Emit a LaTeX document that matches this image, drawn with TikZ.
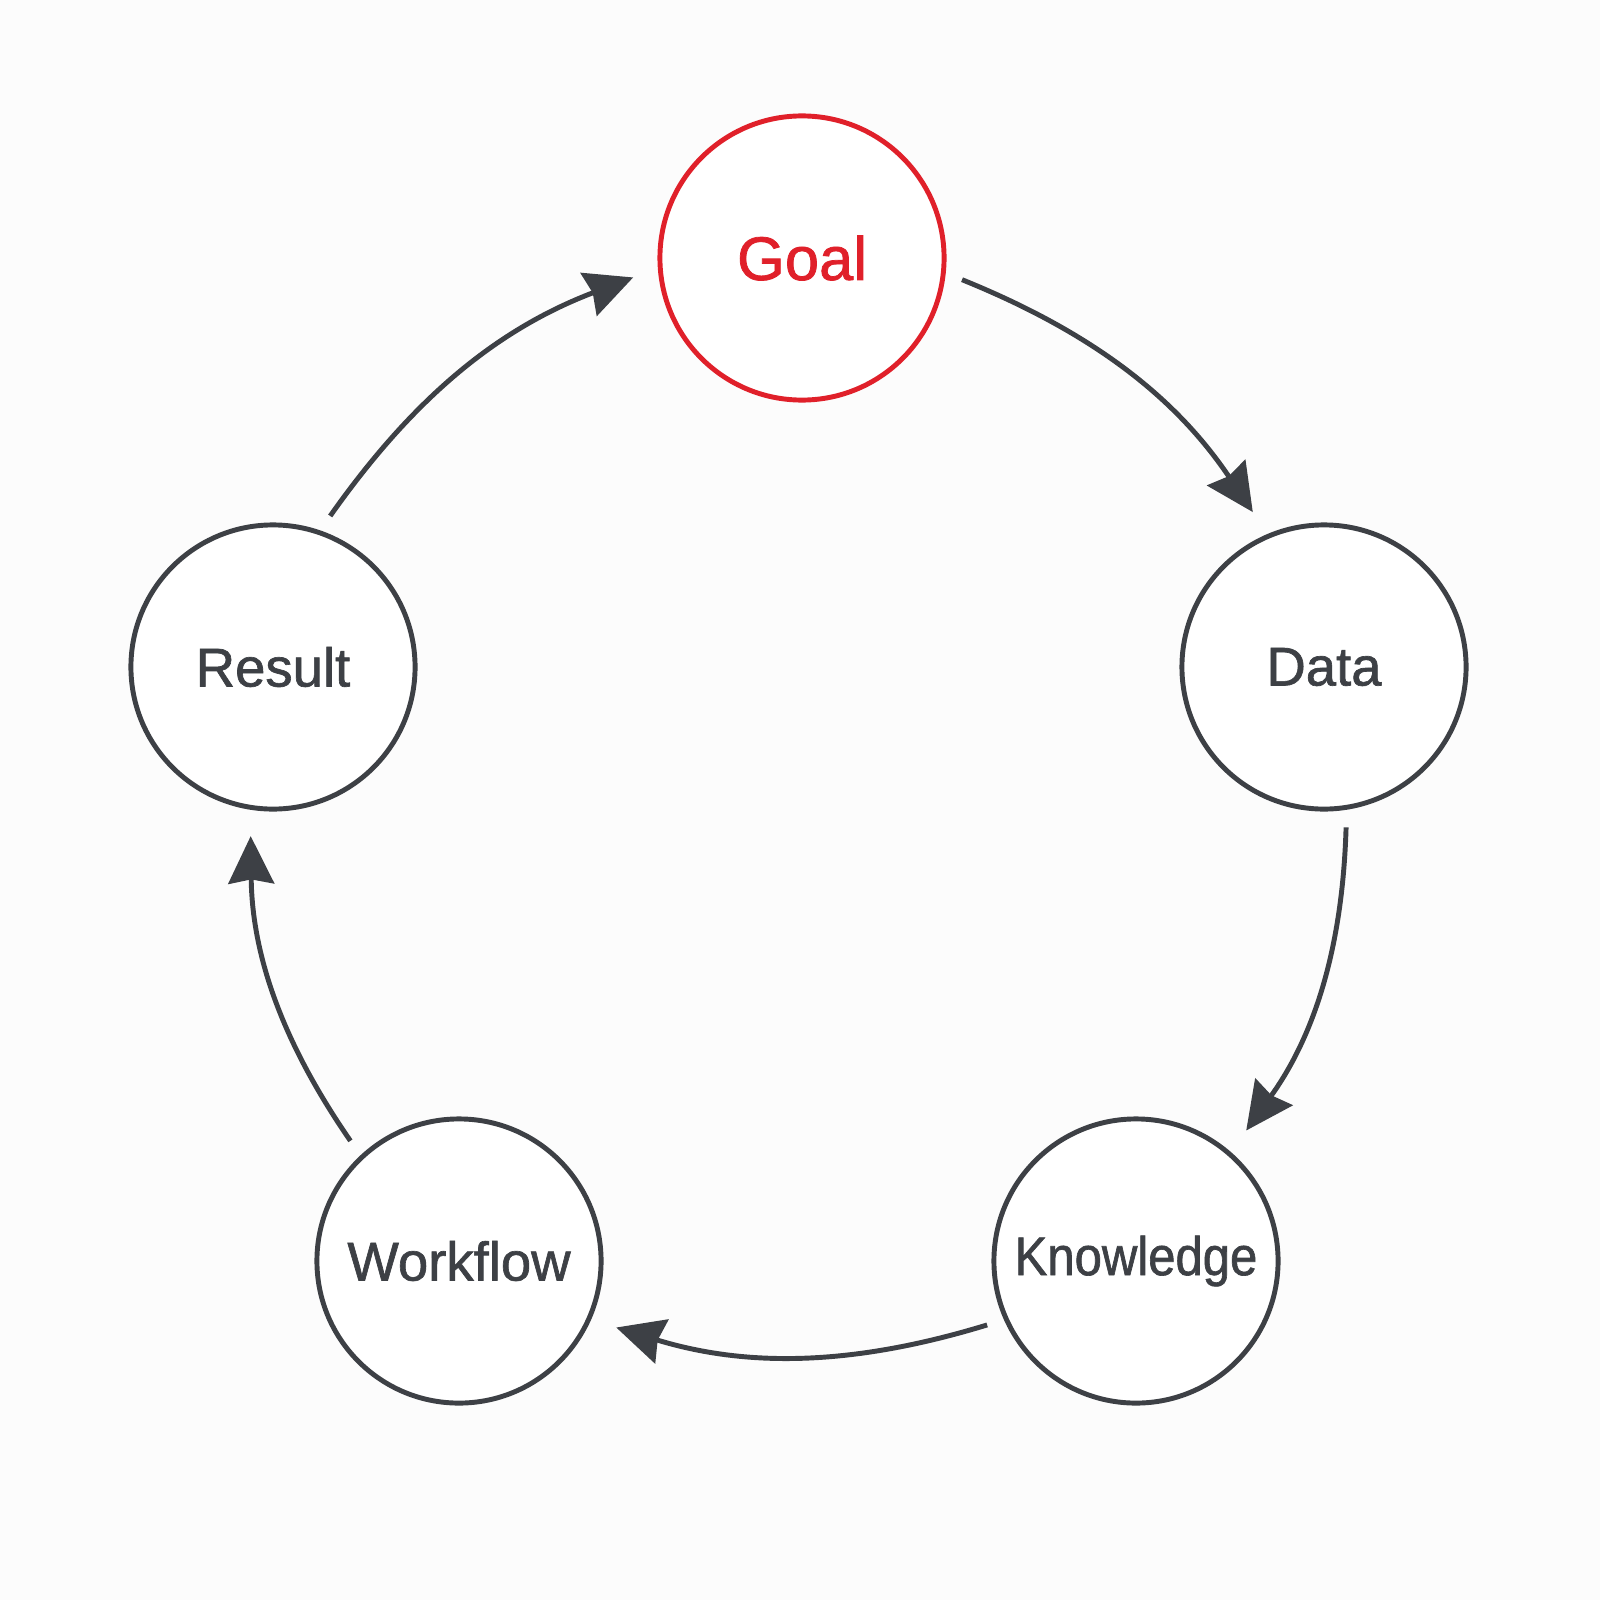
\documentclass[tikz,border=0pt]{standalone}
\usepackage{fontspec}
\newfontfamily\labelfont{Liberation Sans}[FakeBold=1.2]
\newfontfamily\narrowfont{Liberation Sans}[FakeBold=1.2, FakeStretch=0.9]
\usetikzlibrary{arrows.meta}
\definecolor{ink}{HTML}{3D4045}
\definecolor{goalred}{HTML}{E0202A}
\definecolor{paper}{HTML}{FCFCFC}

\begin{document}
\begin{tikzpicture}[
  x=0.01cm, y=-0.01cm,
  stage/.style ={circle, draw=ink, line width=1.4pt, fill=white,
                 minimum size=2.84cm, inner sep=0pt, text=ink,
                 font=\labelfont\fontsize{15.5}{18}\selectfont},
  target/.style={stage, draw=goalred, text=goalred,
                 font=\labelfont\fontsize{17.5}{20}\selectfont},
  cyc/.style   ={-{Stealth[length=13.5pt, width=13pt, inset=1.2pt]},
                 line width=1.4pt, draw=ink, bend left=17,
                 shorten <=5pt, shorten >=7.5pt},
]

% ---- page ----
\fill[paper] (0,0) rectangle (1600,1600);
\useasboundingbox (0,0) rectangle (1600,1600);

% ---- stages ----
\node[target] (goal)   at (802,258)   {Goal};
\node[stage]  (data)   at (1324,667)  {Data};
\node[stage, font=\narrowfont\fontsize{15.5}{18}\selectfont]
              (know)   at (1136,1261) {Knowledge};
\node[stage]  (wflow)  at (459,1261)  {Workflow};
\node[stage]  (result) at (273,667)   {Result};

% ---- cycle ----
\draw[cyc] (goal.-6)    to (data.113);
\draw[cyc] (data.-81)   to (know.49);
\draw[cyc] (know.204)   to (wflow.-24);
\draw[cyc] (wflow.133)  to (result.261);
\draw[cyc] (result.71)  to (goal.184);

\end{tikzpicture}
\end{document}
